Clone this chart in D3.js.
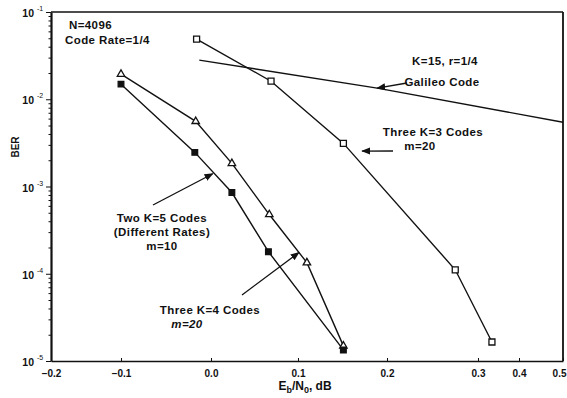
<!DOCTYPE html>
<html>
<head>
<meta charset="utf-8">
<script src="https://cdn.jsdelivr.net/npm/d3@7"></script>
<style>
  body { margin: 0; background: #fff; }
  text { font-family: "Liberation Sans", Arial, sans-serif; fill: #111; }
</style>
</head>
<body>
<div id="chart"></div>
<script>
// Data (Eb/N0 in dB, BER)
let k4_ebno = [-0.10, -0.017, 0.024, 0.067, 0.110, 0.151];
let k4_ber  = [1.94e-2, 5.58e-3, 1.84e-3, 4.77e-4, 1.34e-4, 1.49e-5];

let k5_ebno = [-0.10, -0.018, 0.024, 0.066, 0.151];
let k5_ber  = [1.49e-2, 2.46e-3, 8.53e-4, 1.79e-4, 1.34e-5];

let k3_ebno = [-0.016, 0.069, 0.151, 0.275, 0.334];
let k3_ber  = [4.90e-2, 1.61e-2, 3.12e-3, 1.11e-4, 1.65e-5];

let galileo_ebno = [-0.013, 0.189, 0.5];
let galileo_ber  = [2.81e-2, 1.34e-2, 5.45e-3];

let xTickValues = [-0.2, -0.1, 0.0, 0.1, 0.2, 0.3, 0.4, 0.5];
let yTickValues = [1e-1, 1e-2, 1e-3, 1e-4, 1e-5];
let yTickExp = ["-1", "-2", "-3", "-4", "-5"];

let width = 567;
let height = 398;

var svg = d3
    .select("#chart")
    .append("svg")
    .attr("width", width)
    .attr("height", height);

// the printed axis is not evenly spaced, so use a piecewise scale
let x = d3.scaleLinear()
    .domain(xTickValues)
    .range([51, 121, 211, 298, 387, 478, 519, 563]);

let y = d3.scaleLog()
    .domain([1e-5, 1e-1])
    .range([361, 12]);

function zip(xs, ys) {
  return xs.map((d, i) => ({ x: d, y: ys[i] }));
}

// arrow head
svg.append("defs")
  .append("marker")
  .attr("id", "head")
  .attr("viewBox", "0 0 10 10")
  .attr("refX", 9)
  .attr("refY", 5)
  .attr("markerWidth", 9)
  .attr("markerHeight", 9)
  .attr("markerUnits", "userSpaceOnUse")
  .attr("orient", "auto")
  .append("path")
  .attr("d", "M0,1 L10,5 L0,9 Z")
  .attr("fill", "#111");

// frame (top + right)
svg.append("line")
  .attr("x1", x(-0.2)).attr("x2", x(0.5))
  .attr("y1", y(1e-1)).attr("y2", y(1e-1))
  .attr("stroke", "#111").attr("stroke-width", 1.3);
svg.append("line")
  .attr("x1", x(0.5)).attr("x2", x(0.5))
  .attr("y1", y(1e-1)).attr("y2", y(1e-5))
  .attr("stroke", "#111").attr("stroke-width", 1.8);

// y axis, major + minor log ticks
let minor = [];
for (let e = -5; e < -1; e++) {
  for (let m = 2; m < 10; m++) minor.push(m * Math.pow(10, e));
}
svg.append("g")
  .attr("transform", "translate(" + x(-0.2) + ",0)")
  .call(d3.axisLeft(y).tickValues(minor).tickSize(2.5).tickFormat(""))
  .call(g => g.select(".domain").remove())
  .selectAll("line").attr("stroke", "#111");

let yAxis = svg.append("g")
  .attr("transform", "translate(" + x(-0.2) + ",0)")
  .call(d3.axisLeft(y).tickValues(yTickValues).tickSize(5).tickSizeOuter(0).tickFormat(""));
yAxis.select(".domain").attr("stroke", "#111").attr("stroke-width", 2.2);
yAxis.selectAll("line").attr("stroke", "#111");

svg.append("g")
  .selectAll("text")
  .data(yTickValues)
  .join("text")
  .attr("x", 34)
  .attr("y", d => y(d) + 5)
  .attr("text-anchor", "end")
  .style("font-size", "10.5px")
  .style("font-weight", "bold")
  .text("10");
svg.append("g")
  .selectAll("text")
  .data(yTickValues)
  .join("text")
  .attr("x", 37)
  .attr("y", d => y(d) - 1)
  .style("font-size", "7px")
  .text((d, i) => yTickExp[i]);

svg.append("text")
  .attr("transform", "translate(19,147) rotate(-90)")
  .attr("text-anchor", "middle")
  .style("font-size", "10px")
  .style("font-weight", "bold")
  .text("BER");

// x axis
let xAxis = svg.append("g")
  .attr("transform", "translate(0," + y(1e-5) + ")")
  .call(d3.axisBottom(x).tickValues(xTickValues).tickSize(-3).tickSizeOuter(0)
    .tickFormat(d3.format(".1f")));
xAxis.select(".domain").attr("stroke", "#111").attr("stroke-width", 1.3);
xAxis.selectAll("line").attr("stroke", "#111");
xAxis.selectAll("text")
  .attr("y", 9)
  .style("font-family", "Liberation Sans, Arial, sans-serif")
  .style("font-size", "10px")
  .style("font-weight", "bold")
  .attr("fill", "#111")
  .attr("text-anchor", d => d == 0.5 ? "end" : "middle")
  .attr("dx", d => d == 0.5 ? 3 : 0);

let xTitle = svg.append("text")
  .attr("x", 305)
  .attr("y", 390)
  .attr("text-anchor", "middle")
  .style("font-size", "12px")
  .style("font-weight", "bold");
xTitle.append("tspan").text("E");
xTitle.append("tspan").attr("dy", 3).style("font-size", "9px").text("b");
xTitle.append("tspan").attr("dy", -3).text("/N");
xTitle.append("tspan").attr("dy", 3).style("font-size", "9px").text("0");
xTitle.append("tspan").attr("dy", -3).text(", dB");

// curves
let line = d3.line()
    .x(d => x(d.x))
    .y(d => y(d.y));

let series = [
  { pts: zip(galileo_ebno, galileo_ber), mark: "none" },
  { pts: zip(k3_ebno, k3_ber), mark: "square" },
  { pts: zip(k4_ebno, k4_ber), mark: "triangle" },
  { pts: zip(k5_ebno, k5_ber), mark: "filled" }
];

series.forEach(s => {
  svg.append("path")
    .datum(s.pts)
    .attr("d", line)
    .attr("fill", "none")
    .attr("stroke", "#111")
    .attr("stroke-width", 1.4);
});

series.forEach(s => {
  if (s.mark == "none") return;
  let sym = s.mark == "triangle" ? d3.symbolTriangle : d3.symbolSquare;
  let size = s.mark == "triangle" ? 24 : (s.mark == "filled" ? 32 : 36);
  svg.append("g")
    .selectAll("path")
    .data(s.pts)
    .join("path")
    .attr("transform", d => "translate(" + x(d.x) + "," + y(d.y) + ")")
    .attr("d", d3.symbol().type(sym).size(size))
    .attr("fill", s.mark == "filled" ? "#111" : "#fff")
    .attr("stroke", "#111")
    .attr("stroke-width", 1.3);
});

// annotations: arrow tail (px), arrow tip (data), text lines
let notes = [
  { tail: [407, 83], tip: [0.189, 1.34e-2],
    lines: [["K=15,  r=1/4", 445, 65], ["Galileo Code", 442, 86]] },
  { tail: [393, 151], tip: [0.172, 2.55e-3],
    lines: [["Three K=3 Codes", 433, 136], ["m=20", 420, 150]] },
  { tail: [153, 205], tip: [0.002, 1.40e-3],
    lines: [["Two K=5 Codes", 162, 222], ["(Different Rates)", 162, 236], ["m=10", 162, 250]] },
  { tail: [242, 295], tip: [0.101, 1.75e-4],
    lines: [["Three K=4 Codes", 210, 314], ["m=20", 187, 328, "italic"]] }
];

notes.forEach(n => {
  svg.append("line")
    .attr("x1", n.tail[0]).attr("y1", n.tail[1])
    .attr("x2", x(n.tip[0])).attr("y2", y(n.tip[1]))
    .attr("stroke", "#111")
    .attr("stroke-width", 1.3)
    .attr("marker-end", "url(#head)");
  n.lines.forEach(l => {
    svg.append("text")
      .attr("x", l[1])
      .attr("y", l[2])
      .attr("text-anchor", "middle")
      .style("font-size", "11.5px")
      .style("font-weight", "bold")
      .style("font-style", l[3] || "normal")
      .style("letter-spacing", "0.4px")
      .text(l[0]);
  });
});

svg.append("text")
  .attr("x", 69).attr("y", 29)
  .style("font-size", "11.5px")
  .style("font-weight", "bold")
  .style("letter-spacing", "0.4px")
  .text("N=4096");
svg.append("text")
  .attr("x", 65).attr("y", 44)
  .style("font-size", "11.5px")
  .style("font-weight", "bold")
  .style("letter-spacing", "0.4px")
  .text("Code Rate=1/4");
</script>
</body>
</html>
